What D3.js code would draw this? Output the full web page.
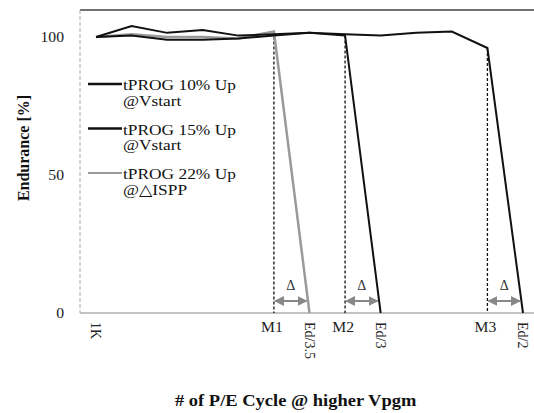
<!DOCTYPE html>
<html><head><meta charset="utf-8">
<script src="https://cdn.jsdelivr.net/npm/d3@7"></script>
<style>body{margin:0;background:#fff}svg{display:block}text{font-family:"Liberation Serif","DejaVu Serif",serif}</style>
</head><body><svg id="c" width="534" height="413"></svg>
<script>
const categories = ["1K","","","","","M1","Ed/3.5","M2","Ed/3","","","M3","Ed/2"];
const rotatedLabels = ["1K","Ed/3.5","Ed/3","Ed/2"];
const series10 = [100,104,101.5,102.5,100.5,101,101.5,101,100.5,101.5,102,96,0];
const series15 = [100,100.5,99,99,99.5,100.5,101.5,100.5,0];
const series22 = [100,101,100,100,99.5,102,0];
const seriesNames = ["tPROG 10% Up|@Vstart","tPROG 15% Up|@Vstart","tPROG 22% Up|@\u25B3ISPP"];
const seriesColors = ["#111","#111","#9a9a9a"];
const yTicks = [0,50,100];
const markers = [{m:5,e:6,s:2},{m:7,e:8,s:1},{m:11,e:12,s:0}];

const STRETCH = 1.12;
function stretch(sel){
  sel.each(function(){
    const L = this.getComputedTextLength();
    d3.select(this).attr("textLength", L*STRETCH).attr("lengthAdjust","spacingAndGlyphs");
  });
}

const svg = d3.select("#c");
const x = d3.scalePoint().domain(d3.range(categories.length)).range([96,523]);
const y = d3.scaleLinear().domain([0,110]).range([313,9.4]);
const allSeries = [series10, series15, series22];

// frame
svg.append("line").attr("x1",80).attr("x2",534).attr("y1",10).attr("y2",10).attr("stroke","#444").attr("stroke-width",1.5);
svg.append("line").attr("x1",80).attr("x2",80).attr("y1",10).attr("y2",313).attr("stroke","#aaa").attr("stroke-dasharray","4,2");
svg.append("line").attr("x1",80).attr("x2",534).attr("y1",313).attr("y2",313).attr("stroke","#888").attr("stroke-width",1.2);

// y ticks
svg.selectAll(".yt").data(yTicks).enter().append("text")
  .attr("x",64).attr("y",d=>y(d)+5).attr("text-anchor","end").attr("font-size",14).attr("fill","#222").text(d=>d)
  .call(stretch);

// x labels
categories.forEach((c,i)=>{
  if(!c) return;
  if(rotatedLabels.includes(c)){
    svg.append("text").attr("transform",`translate(${x(i)-5},${322}) rotate(90)`)
      .attr("font-size",14).attr("fill","#222").text(c);
  } else {
    svg.append("text").attr("x",x(i)-2).attr("y",332).attr("text-anchor","middle")
      .attr("font-size",14).attr("fill","#222").text(c).call(stretch);
  }
});

// dashed markers
markers.forEach(mk=>{
  const s = allSeries[mk.s];
  svg.append("line").attr("x1",x(mk.m)).attr("x2",x(mk.m)).attr("y1",y(s[mk.m])).attr("y2",313)
    .attr("stroke","#111").attr("stroke-width",1.3).attr("stroke-dasharray","3,2");
});

// series
const line = d3.line().x((d,i)=>x(i)).y(d=>y(d));
[series22, series15, series10].forEach((s,k)=>{
  const idx = 2-k;
  svg.append("path").datum(s).attr("d",line).attr("fill","none")
    .attr("stroke",seriesColors[idx]).attr("stroke-width",idx===2?2.5:2);
});

// arrows
const defs = svg.append("defs");
["s","e"].forEach(id=>{
  defs.append("marker").attr("id","ar"+id).attr("viewBox","0 0 10 10").attr("refX",9).attr("refY",5)
    .attr("markerWidth",5).attr("markerHeight",5).attr("orient","auto-start-reverse")
    .append("path").attr("d","M0,0L10,5L0,10z").attr("fill","#888");
});
markers.forEach(mk=>{
  const x1 = x(mk.m)+1, x2 = x(mk.e)-3;
  svg.append("line").attr("x1",x1).attr("x2",x2).attr("y1",301).attr("y2",301)
    .attr("stroke","#888").attr("stroke-width",2)
    .attr("marker-start","url(#ars)").attr("marker-end","url(#are)");
  svg.append("text").attr("x",(x1+x2)/2).attr("y",290).attr("text-anchor","middle")
    .attr("font-size",14).attr("fill","#333").text("\u0394");
});

// legend
seriesNames.forEach((n,i)=>{
  const ly = 84 + i*44.5;
  svg.append("line").attr("x1",88).attr("x2",122).attr("y1",ly).attr("y2",ly)
    .attr("stroke",seriesColors[i]).attr("stroke-width",i===2?2:2.5);
  const parts = n.split("|");
  svg.append("text").attr("x",123).attr("y",ly+6).attr("font-size",15.5).attr("fill","#111").text(parts[0]).call(stretch);
  svg.append("text").attr("x",123).attr("y",ly+21.5).attr("font-size",15.5).attr("fill","#111").text(parts[1]).call(stretch);
});

// axis titles
svg.append("text").attr("transform","translate(29,148) rotate(-90)").attr("text-anchor","middle")
  .attr("font-size",16).attr("font-weight","bold").attr("fill","#111").text("Endurance [%]");
svg.append("text").attr("x",175).attr("y",406).attr("text-anchor","start")
  .attr("font-size",16.5).attr("font-weight","bold").attr("fill","#111").text("# of P/E Cycle @ higher Vpgm").call(stretch);
</script></body></html>
